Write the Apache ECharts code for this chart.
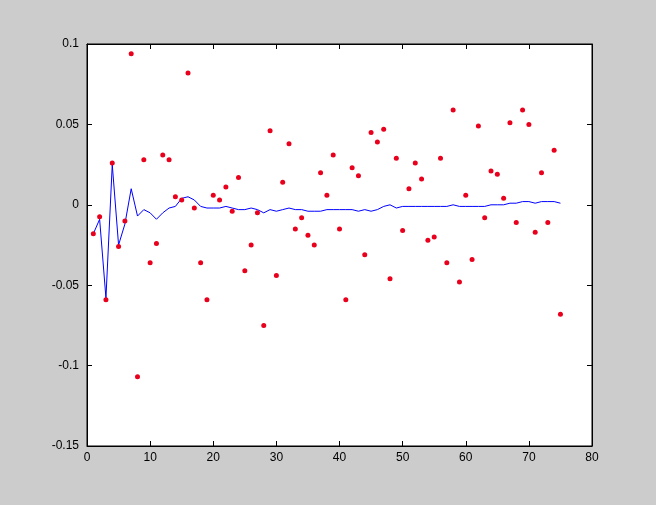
<!DOCTYPE html>
<html><head><meta charset="utf-8">
<script src="https://cdn.jsdelivr.net/npm/echarts@6/dist/echarts.min.js"></script>
<style>html,body{margin:0;padding:0;background:#cccccc}#c{width:656px;height:505px}</style>
</head><body><div id="c"></div>
<script>
const pointValues = [-0.018,-0.0075,-0.059,0.026,-0.026,-0.01,0.094,-0.107,0.028,-0.036,
-0.024,0.031,0.028,0.005,0.003,0.082,-0.002,-0.036,-0.059,0.006,
0.003,0.011,-0.004,0.017,-0.041,-0.025,-0.005,-0.075,0.046,-0.044,
0.014,0.038,-0.015,-0.008,-0.019,-0.025,0.02,0.006,0.031,-0.015,
-0.059,0.023,0.018,-0.031,0.045,0.039,0.047,-0.046,0.029,-0.016,
0.01,0.026,0.016,-0.022,-0.02,0.029,-0.036,0.059,-0.048,0.006,
-0.034,0.049,-0.008,0.021,0.019,0.004,0.051,-0.011,0.059,0.05,
-0.017,0.02,-0.011,0.034,-0.068];
const lineValues = [-0.018,-0.009,-0.058,0.025,-0.025,-0.012,0.010,-0.007,-0.003,-0.005,
-0.009,-0.005,-0.002,-0.001,0.004,0.005,0.003,-0.001,-0.002,-0.002,
-0.002,-0.001,-0.002,-0.003,-0.003,-0.002,-0.003,-0.005,-0.003,-0.004,
-0.003,-0.002,-0.003,-0.003,-0.004,-0.004,-0.004,-0.003,-0.003,-0.003,
-0.003,-0.003,-0.004,-0.003,-0.004,-0.003,-0.001,0.000,-0.002,-0.001,
-0.001,-0.001,-0.001,-0.001,-0.001,-0.001,-0.001,0.000,-0.001,-0.001,
-0.001,-0.001,-0.001,0.000,0.000,0.000,0.001,0.001,0.002,0.002,
0.001,0.002,0.002,0.002,0.001];
const xTicks = [0,10,20,30,40,50,60,70,80];
const yTicks = [-0.15,-0.1,-0.05,0,0.05,0.1];

const pts = pointValues.map((v,i)=>[i+1,v]);
const ln = lineValues.map((v,i)=>[i+1,v]);
const lbl = {color:'#000',fontFamily:'Liberation Sans',fontSize:12};
const tick = {inside:true,length:5,lineStyle:{color:'#000'}};
const axLine = {onZero:false,lineStyle:{color:'#000'}};
const chart = echarts.init(document.getElementById('c'));
chart.setOption({
  backgroundColor:'#cccccc',
  animation:false,
  grid:{left:87,top:44,right:64,bottom:59,show:true,backgroundColor:'#fff',borderColor:'#000',borderWidth:1},
  xAxis:[
    {type:'value',min:0,max:80,interval:10,axisLine:axLine,axisTick:tick,splitLine:{show:false},axisLabel:{...lbl,margin:6}},
    {type:'value',position:'top',min:0,max:80,interval:10,axisLine:axLine,axisTick:tick,splitLine:{show:false},axisLabel:{show:false}}
  ],
  yAxis:[
    {type:'value',min:-0.15,max:0.1,interval:0.05,axisLine:axLine,axisTick:tick,splitLine:{show:false},
     axisLabel:{...lbl,margin:8,formatter:v=>{const r=Math.round(v*100)/100;return r===0?'0':String(r);}}},
    {type:'value',position:'right',min:-0.15,max:0.1,interval:0.05,axisLine:axLine,axisTick:tick,splitLine:{show:false},axisLabel:{show:false}}
  ],
  series:[
    {type:'line',data:ln,symbol:'none',lineStyle:{color:'#0000ff',width:1},z:2},
    {type:'scatter',data:pts,symbol:'circle',symbolSize:5,itemStyle:{color:'#e8001c',opacity:1},z:3}
  ]
});
</script></body></html>
